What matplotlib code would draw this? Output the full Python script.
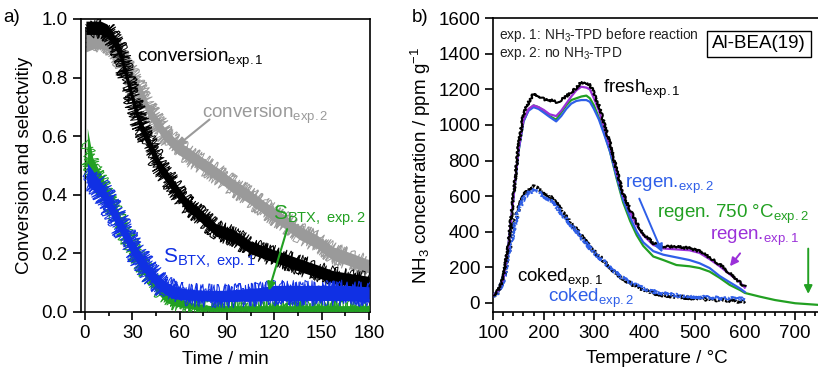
import numpy as np
import matplotlib
matplotlib.use("Agg")
import matplotlib.pyplot as plt
from matplotlib.ticker import MultipleLocator, FormatStrFormatter

plt.rcParams.update({
    "font.family": ["Liberation Sans", "DejaVu Sans"],
    "mathtext.fontset": "custom",
    "mathtext.rm": "Liberation Sans",
    "mathtext.it": "Liberation Sans:italic",
    "mathtext.bf": "Liberation Sans:bold",
    "font.size": 13.5,
    "axes.linewidth": 1.2,
})

# ---------------- panel a: conversion and BTX selectivity vs. time ----------------
conv1_t = [0, 0.6, 5, 10, 14, 18, 22, 26, 30, 35, 41, 47, 56, 64, 73, 83, 94, 105, 115, 126, 136, 147, 157, 168, 180]
conv1_v = [0.0, 0.97, 0.97, 0.97, 0.96, 0.93, 0.89, 0.81, 0.73, 0.64, 0.57, 0.50, 0.43, 0.37, 0.33, 0.28, 0.26, 0.22, 0.20, 0.18, 0.16, 0.14, 0.12, 0.11, 0.10]
conv1_w = [0.0, 0.035, 0.035, 0.035, 0.035, 0.033, 0.033, 0.033, 0.033, 0.033, 0.033, 0.033, 0.033, 0.033, 0.033, 0.033, 0.033, 0.033, 0.033, 0.033, 0.033, 0.033, 0.033, 0.033, 0.033]

conv2_t = [0.6, 5, 10, 14, 18, 22, 30, 37, 40, 50, 58, 73, 84, 94, 105, 115, 126, 136, 147, 157, 168, 180]
conv2_v = [0.92, 0.93, 0.93, 0.92, 0.90, 0.87, 0.80, 0.73, 0.69, 0.61, 0.565, 0.51, 0.47, 0.43, 0.39, 0.35, 0.31, 0.27, 0.24, 0.20, 0.18, 0.155]
conv2_w = [0.05, 0.05, 0.05, 0.04, 0.035, 0.035, 0.035, 0.035, 0.035, 0.035, 0.035, 0.035, 0.035, 0.035, 0.035, 0.035, 0.035, 0.035, 0.035, 0.035, 0.035, 0.035]

sbtx1_t = [1.5, 5, 10, 15, 20, 25, 30, 35, 40, 45, 50, 55, 60, 70, 80, 90, 100, 110, 120, 135, 150, 165, 180]
sbtx1_v = [0.47, 0.45, 0.42, 0.37, 0.32, 0.27, 0.22, 0.18, 0.14, 0.11, 0.085, 0.07, 0.062, 0.058, 0.055, 0.055, 0.058, 0.06, 0.065, 0.065, 0.065, 0.065, 0.06]
sbtx1_w = [0.06, 0.05, 0.04, 0.04, 0.04, 0.04, 0.04, 0.04, 0.035, 0.035, 0.035, 0.035, 0.03, 0.028, 0.028, 0.03, 0.032, 0.035, 0.04, 0.04, 0.04, 0.04, 0.04]

sbtx2_t = [1.5, 5, 10, 15, 20, 25, 30, 35, 40, 45, 50, 55, 60, 70, 80, 100, 120, 150, 180]
sbtx2_v = [0.55, 0.48, 0.44, 0.38, 0.33, 0.27, 0.22, 0.17, 0.13, 0.09, 0.06, 0.04, 0.03, 0.018, 0.012, 0.012, 0.012, 0.012, 0.012]
sbtx2_w = [0.12, 0.07, 0.05, 0.05, 0.045, 0.04, 0.04, 0.04, 0.035, 0.03, 0.03, 0.025, 0.02, 0.015, 0.015, 0.015, 0.015, 0.015, 0.015]

# ---------------- panel b: NH3-TPD profiles ----------------
tpd_T = [100, 110, 120, 130, 140, 150, 160, 170, 180, 190, 200, 212, 225, 235, 245, 255, 265, 275, 285, 292, 300, 310, 320, 332, 345, 358, 372, 385, 398, 418, 438, 464, 490, 510, 530, 550, 570, 590, 600]
fresh1 = [40, 70, 140, 330, 600, 880, 1060, 1130, 1175, 1165, 1145, 1140, 1130, 1140, 1160, 1185, 1206, 1243, 1230, 1225, 1180, 1110, 1010, 896, 746, 615, 521, 446, 390, 334, 315, 315, 306, 290, 255, 215, 165, 115, 90]
regen1 = [40, 70, 135, 320, 590, 860, 1030, 1090, 1110, 1100, 1085, 1060, 1050, 1080, 1120, 1160, 1195, 1215, 1210, 1200, 1150, 1080, 990, 880, 735, 605, 510, 435, 380, 325, 305, 300, 295, 280, 245, 205, 160, 115, 85]
regen2 = [40, 70, 135, 320, 590, 850, 1020, 1080, 1100, 1090, 1070, 1045, 1020, 1050, 1090, 1120, 1135, 1140, 1140, 1130, 1090, 1030, 950, 850, 710, 580, 480, 400, 340, 290, 270, 255, 240, 222, 195, 150, 115, 81, 60]

regen750_T = [100, 110, 120, 130, 140, 150, 160, 170, 180, 190, 200, 212, 225, 235, 245, 255, 265, 275, 285, 292, 300, 310, 320, 332, 345, 358, 372, 385, 398, 418, 438, 464, 490, 510, 530, 550, 570, 590, 600, 630, 660, 700, 750]
regen750 = [40, 70, 135, 320, 590, 850, 1020, 1085, 1110, 1100, 1080, 1050, 1030, 1070, 1110, 1140, 1150, 1160, 1165, 1150, 1110, 1040, 960, 850, 700, 565, 460, 380, 320, 260, 240, 212, 205, 195, 175, 140, 100, 72, 55, 34, 15, -3, -13]

coked_T = [100, 110, 120, 130, 140, 150, 160, 170, 180, 190, 200, 213, 225, 239, 252, 266, 279, 292, 305, 318, 332, 345, 358, 372, 385, 398, 418, 438, 464, 490, 504, 520, 544, 570, 600]
coked1 = [40, 60, 130, 270, 420, 530, 600, 640, 652, 640, 620, 596, 560, 502, 455, 409, 360, 315, 275, 240, 200, 165, 135, 109, 88, 71, 55, 43, 34, 28, 24, 20, 15, 10, 6]
coked2 = [40, 60, 125, 260, 405, 515, 585, 620, 630, 620, 600, 575, 540, 490, 445, 400, 352, 308, 270, 236, 198, 165, 138, 115, 96, 80, 64, 52, 42, 36, 33, 30, 27, 24, 20]

C_BLACK = "#000000"
C_GRAY = "#9a9a9a"
C_BLUE_A = "#1030e4"
C_BLUE_B = "#2f5fe8"
C_GREEN = "#22a022"
C_PURPLE = "#9b30d9"

W, H = 818, 378
fig = plt.figure(figsize=(W / 100, H / 100), dpi=100)


def px(x, y):
    """figure-pixel position (from top-left) -> figure fraction"""
    return x / W, 1 - y / H


def style_axes(ax):
    ax.tick_params(which="major", direction="out", length=5.5, width=1.2, pad=4, labelsize=13.5)
    ax.tick_params(which="minor", direction="out", length=3, width=1.2)


def noisy_trace(ax, t, v, w, color, z, start=0):
    """Scattered signal: a solid core band plus rapidly jittered traces whose
    amplitude follows the typical scatter width of the series."""
    t = np.asarray(t, float)[start:]
    v = np.asarray(v, float)[start:]
    w = np.asarray(w, float)[start:]
    ax.fill_between(t, v - 0.65 * w, v + 0.65 * w, color=color, lw=0, zorder=z)
    y0, y1 = ax.get_ylim()
    unit_px = ax.get_window_extent().height / (y1 - y0)
    amp = float(np.median(w)) * unit_px
    for offset, scale, length, lw in ((0.0, 1.0, 2.0, 0.8), (0.3, 0.8, 1.5, 0.7), (-0.3, 0.8, 1.7, 0.7)):
        line, = ax.plot(t, v + offset * w, color=color, lw=lw, zorder=z)
        line.set_sketch_params(scale=amp * scale, length=length, randomness=40)


# ---- panel a ----
axa = fig.add_axes([81 / W, 1 - 312 / H, 289 / W, 293 / H])
axa.set_xlim(-2.5, 180.6)
axa.set_ylim(0, 1.0)
noisy_trace(axa, conv2_t, conv2_v, conv2_w, C_GRAY, 2)
axa.plot(conv1_t[:2], conv1_v[:2], color=C_BLACK, lw=1.0, zorder=3)
noisy_trace(axa, conv1_t, conv1_v, conv1_w, C_BLACK, 3, start=1)
noisy_trace(axa, sbtx2_t, sbtx2_v, sbtx2_w, C_GREEN, 4)
noisy_trace(axa, sbtx1_t, sbtx1_v, sbtx1_w, C_BLUE_A, 5)
axa.xaxis.set_major_locator(MultipleLocator(30))
axa.xaxis.set_minor_locator(MultipleLocator(15))
axa.yaxis.set_major_locator(MultipleLocator(0.2))
axa.yaxis.set_major_formatter(FormatStrFormatter("%.1f"))
style_axes(axa)
axa.set_xlabel("Time / min", fontsize=13.5, labelpad=6)
axa.set_ylabel("Conversion and selectvitiy", fontsize=13.5, labelpad=6)

fig.text(*px(137, 62), r"conversion$_{\mathrm{exp.1}}$", color=C_BLACK, fontsize=13.5, va="baseline")
fig.text(*px(202, 118), r"conversion$_{\mathrm{exp.2}}$", color=C_GRAY, fontsize=13.5, va="baseline")
fig.text(*px(273, 220), r"S$_{\mathrm{BTX,\ exp.2}}$", color=C_GREEN, fontsize=15, va="baseline")
fig.text(*px(163, 263), r"S$_{\mathrm{BTX,\ exp.1}}$", color=C_BLUE_A, fontsize=15, va="baseline")
axa.annotate("", xy=(57.0, 0.561), xytext=(80.3, 0.663),
             arrowprops=dict(arrowstyle="-|>", color=C_GRAY, lw=1.5, mutation_scale=12), zorder=6)
axa.annotate("", xy=(116, 0.064), xytext=(128.6, 0.292),
             arrowprops=dict(arrowstyle="-|>", color=C_GREEN, lw=1.5, mutation_scale=12), zorder=6)
fig.text(*px(3, 18), "a)", fontsize=13.5, va="center")

# ---- panel b ----
axb = fig.add_axes([493.3 / W, 1 - 311.6 / H, 327 / W, 293.3 / H])
axb.plot(regen750_T, regen750, color=C_GREEN, lw=1.6, zorder=3)
axb.plot(tpd_T, regen2, color=C_BLUE_B, lw=1.6, zorder=4)
axb.plot(tpd_T, regen1, color=C_PURPLE, lw=1.6, zorder=5)
fr, = axb.plot(tpd_T, fresh1, color=C_BLACK, lw=1.5, zorder=6)
fr.set_sketch_params(scale=1.2, length=3, randomness=4)
for series, color, z in ((coked1, C_BLACK, 3), (coked2, C_BLUE_B, 4)):
    ln, = axb.plot(coked_T, series, color=color, lw=2.4, ls=(0, (0.8, 0.5)), zorder=z)
    ln.set_sketch_params(scale=1.0, length=2, randomness=3)
axb.set_xlim(100, 750)
axb.set_ylim(-50, 1600)
axb.xaxis.set_major_locator(MultipleLocator(100))
axb.xaxis.set_minor_locator(MultipleLocator(20))
axb.set_yticks(range(0, 1601, 200))
style_axes(axb)
axb.set_xlabel("Temperature / °C", fontsize=13.5, labelpad=6)
axb.set_ylabel(r"NH$_3$ concentration / ppm g$^{-1}$", fontsize=13.5, labelpad=4)

fig.text(*px(499, 35), r"exp. 1: NH$_3$-TPD before reaction", fontsize=9.9, va="center", color="#222222")
fig.text(*px(499, 53), r"exp. 2: no NH$_3$-TPD", fontsize=9.9, va="center", color="#222222")
fig.text(*px(759, 44), "Al-BEA(19)", fontsize=13.5, ha="center", va="center",
         bbox=dict(boxstyle="square,pad=0.25", fc="white", ec="black", lw=1.0))
fig.text(*px(603, 93), r"fresh$_{\mathrm{exp.1}}$", color=C_BLACK, fontsize=13.5, va="baseline")
fig.text(*px(625, 188), r"regen.$_{\mathrm{exp.2}}$", color=C_BLUE_B, fontsize=13.5, va="baseline")
fig.text(*px(657, 218), r"regen. 750 °C$_{\mathrm{exp.2}}$", color=C_GREEN, fontsize=13.5, va="baseline")
fig.text(*px(710, 240), r"regen.$_{\mathrm{exp.1}}$", color=C_PURPLE, fontsize=13.5, va="baseline")
fig.text(*px(517, 282), r"coked$_{\mathrm{exp.1}}$", color=C_BLACK, fontsize=13.5, va="baseline")
fig.text(*px(548, 302), r"coked$_{\mathrm{exp.2}}$", color=C_BLUE_B, fontsize=13.5, va="baseline")
axb.annotate("", xy=(438, 268), xytext=(388, 600),
             arrowprops=dict(arrowstyle="-|>", color=C_BLUE_B, lw=1.4, mutation_scale=12), zorder=7)
axb.annotate("", xy=(567, 193), xytext=(594, 290),
             arrowprops=dict(arrowstyle="-|>", color=C_PURPLE, lw=1.4, mutation_scale=12), zorder=7)
axb.annotate("", xy=(726, 34), xytext=(726, 320),
             arrowprops=dict(arrowstyle="-|>", color=C_GREEN, lw=1.4, mutation_scale=12), zorder=7)
fig.text(*px(412, 18), "b)", fontsize=13.5, va="center")

fig.savefig("out.png", dpi=100)
